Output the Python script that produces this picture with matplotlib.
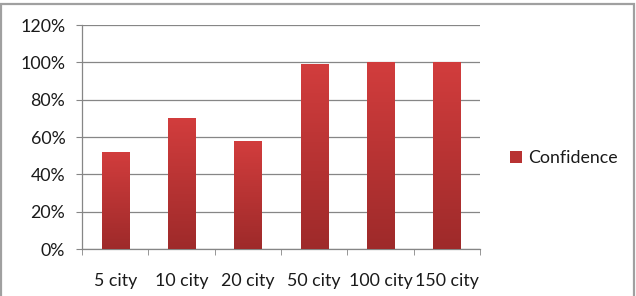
import matplotlib
matplotlib.use("Agg")
import matplotlib.pyplot as plt
import numpy as np
from matplotlib.colors import LinearSegmentedColormap
from matplotlib.patches import Rectangle
from matplotlib.ticker import FuncFormatter, FixedLocator

categories = ["5 city", "10 city", "20 city", "50 city", "100 city", "150 city"]
confidence = [0.52, 0.70, 0.58, 0.99, 1.00, 1.00]
series_name = "Confidence"
y_ticks = [0, 0.2, 0.4, 0.6, 0.8, 1.0, 1.2]

plt.rcParams['font.family'] = ['Lato', 'DejaVu Sans']

fig = plt.figure(figsize=(6.36, 2.96), dpi=100)
ax = fig.add_axes([82/636, 1-249/296, (480-82)/636, (249-25)/296])

x = np.arange(len(categories))
bars = ax.bar(x, confidence, width=0.41, color="#B83232", zorder=2)

cmap = LinearSegmentedColormap.from_list("g", ["#9E2A2A", "#D23D3D"])
grad = np.linspace(0, 1, 256).reshape(-1, 1)
for b in bars:
    x0, y0 = b.get_x(), b.get_y()
    w, h = b.get_width(), b.get_height()
    im = ax.imshow(grad, cmap=cmap, origin="lower", aspect="auto",
                   extent=[x0, x0 + w, y0, y0 + h], zorder=3)
    im.set_clip_path(b)

fs = 12.8
ax.set_xlim(-0.5, len(categories) - 0.5)
ax.set_ylim(0, 1.2)
ax.yaxis.set_major_locator(FixedLocator(y_ticks))
ax.yaxis.set_major_formatter(FuncFormatter(lambda v, p: f"{v*100:.0f}%"))
ax.set_xticks(x)
ax.set_xticklabels(categories)
ax.set_xticks(np.arange(-0.5, len(categories)), minor=True)
ax.tick_params(axis="x", which="major", length=0, pad=17, labelsize=fs)
ax.tick_params(axis="x", which="minor", length=4, color="#868686", direction="out")
ax.tick_params(axis="y", which="major", length=4, color="#868686", direction="out", pad=8, labelsize=fs)
for t in ax.get_xticklabels() + ax.get_yticklabels():
    t.set_color("#1a1a1a")

ax.grid(axis="y", color="#868686", linewidth=0.9, zorder=0)
ax.set_axisbelow(True)
for s in ["top", "right"]:
    ax.spines[s].set_visible(False)
for s in ["left", "bottom"]:
    ax.spines[s].set_color("#868686")
    ax.spines[s].set_linewidth(0.9)

handle = Rectangle((0, 0), 1, 1, facecolor="#B83232")
leg = fig.legend([handle], [series_name], loc="center left",
                 bbox_to_anchor=(501/636, 1-158/296), frameon=False,
                 fontsize=fs, handlelength=0.7, handleheight=0.7,
                 handletextpad=0.3, borderpad=0)
for t in leg.get_texts():
    t.set_color("#1a1a1a")

# outer chart border
fig.add_artist(Rectangle((1/636, -0.05), 633/636, 1.05 - 4/296,
                         transform=fig.transFigure, fill=False,
                         edgecolor="#A0A0A0", linewidth=1.6))

fig.savefig("out.png", dpi=100)
